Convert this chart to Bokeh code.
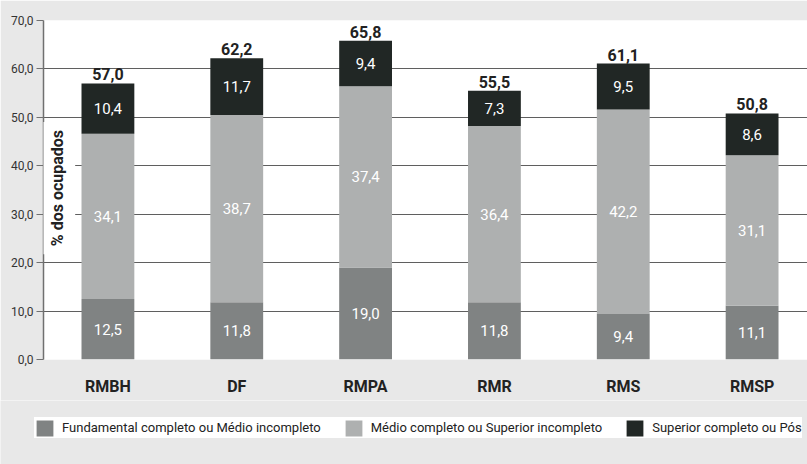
import math
from bokeh.plotting import figure
from bokeh.layouts import column
from bokeh.models import ColumnDataSource, Legend, LegendItem, Label, FixedTicker
from bokeh.core.properties import value
from bokeh.embed import file_html
from bokeh.resources import INLINE

categories = ["RMBH", "DF", "RMPA", "RMR", "RMS", "RMSP"]
fundamental = [12.5, 11.8, 19.0, 11.8, 9.4, 11.1]
medio = [34.1, 38.7, 37.4, 36.4, 42.2, 31.1]
superior = [10.4, 11.7, 9.4, 7.3, 9.5, 8.6]
totals = [57.0, 62.2, 65.8, 55.5, 61.1, 50.8]
series_names = ["Fundamental completo ou Médio incompleto",
                "Médio completo ou Superior incompleto",
                "Superior completo ou Pós"]
y_ticks = [0, 10, 20, 30, 40, 50, 60, 70]
y_tick_labels = ["0,0", "10,0", "20,0", "30,0", "40,0", "50,0", "60,0", "70,0"]
y_title = "% dos ocupados"

colors = ["#808383", "#aeb0b0", "#212725"]
BG = "#e8e8e8"
FONT = "Roboto"

def fmt(v):
    return f"{v:.1f}".replace(".", ",")

xs = list(range(len(categories)))
src = ColumnDataSource(dict(x=xs, fund=fundamental, med=medio, sup=superior))

p = figure(width=807, height=400, x_range=(-0.5, 5.43), y_range=(0, 70),
           output_backend="svg", toolbar_location=None,
           min_border_left=43, min_border_right=0, min_border_top=20, min_border_bottom=41)
p.background_fill_color = "white"
p.border_fill_color = BG
p.outline_line_color = None

rs = p.vbar_stack(["fund", "med", "sup"], x="x", width=0.41, source=src,
                  color=colors, line_color=None)

# segment labels
seg_x, seg_y, seg_t = [], [], []
for i in range(len(categories)):
    base = 0.0
    for s in (fundamental, medio, superior):
        seg_x.append(xs[i]); seg_y.append(base + s[i] / 2.0); seg_t.append(fmt(s[i]))
        base += s[i]
p.text(x=seg_x, y=seg_y, text=seg_t, text_color="white", text_align="center",
       text_baseline="middle", text_font=value(FONT), text_font_size="15px")

tops = [f + m + s for f, m, s in zip(fundamental, medio, superior)]
p.text(x=xs, y=tops, text=[fmt(t) for t in totals], text_color="#222222",
       text_align="center", text_baseline="bottom", y_offset=-3,
       text_font=value(FONT), text_font_size="16px", text_font_style="bold")

# axes
p.xaxis.ticker = FixedTicker(ticks=xs)
p.xaxis.major_label_overrides = {i: c for i, c in zip(xs, categories)}
p.xaxis.axis_line_color = None
p.xaxis.major_tick_line_color = None
p.xaxis.minor_tick_line_color = None
p.xaxis.major_label_standoff = 11
p.xaxis.major_label_text_font = FONT
p.xaxis.major_label_text_font_size = "16px"
p.xaxis.major_label_text_font_style = "bold"
p.xaxis.major_label_text_color = "#222222"
p.xgrid.grid_line_color = None

p.yaxis.ticker = FixedTicker(ticks=y_ticks)
p.yaxis.major_label_overrides = {t: l for t, l in zip(y_ticks, y_tick_labels)}
p.yaxis.axis_line_color = "#707070"
p.yaxis.axis_line_width = 1.5
p.yaxis.major_tick_line_color = "#707070"
p.yaxis.major_tick_in = 0
p.yaxis.major_tick_out = 7
p.yaxis.minor_tick_line_color = None
p.yaxis.major_label_standoff = 3
p.yaxis.major_label_text_font = FONT
p.yaxis.major_label_text_font_size = "12px"
p.yaxis.major_label_text_color = "#333333"
p.ygrid.grid_line_color = "#5f5f5f"
p.ygrid.grid_line_width = 1.2

lab = Label(x=-0.39, y=35.4, text=y_title, angle=math.pi / 2, angle_units="rad",
            text_align="center", text_baseline="middle", text_font=FONT,
            text_font_size="16px", text_font_style="bold", text_color="#222222",
            background_fill_color="white", padding=8)
p.add_layout(lab)

# legend strip (its renderers are hidden; only their legend swatches show)
pl = figure(width=807, height=64, output_backend="svg", toolbar_location=None,
            x_range=(-0.5, 5.5), y_range=(0, 70), min_border=0,
            x_axis_type=None, y_axis_type=None)
if "frame_align" in pl.properties():
    pl.frame_align = False
    p.frame_align = False
pl.grid.visible = False
pl.outline_line_color = None
pl.background_fill_color = BG
pl.border_fill_color = BG
lrs = pl.vbar_stack(["fund", "med", "sup"], x="x", width=0.41, source=src,
                    color=colors, line_color=None)
for r in lrs:
    r.visible = False
legend = Legend(items=[LegendItem(label=n, renderers=[r]) for n, r in zip(series_names, lrs)],
                orientation="horizontal", location=(34, 26),
                glyph_width=21, glyph_height=20, label_standoff=7, spacing=22,
                padding=8, margin=0, border_line_color=None,
                background_fill_color="white", background_fill_alpha=1.0,
                inactive_fill_alpha=0.0,
                label_text_font=FONT, label_text_font_size="13px",
                label_text_color="#222222", label_height=21)
pl.add_layout(legend, "center")

layout = column(p, pl, spacing=0)
open("out.html", "w").write(file_html(layout, INLINE))
